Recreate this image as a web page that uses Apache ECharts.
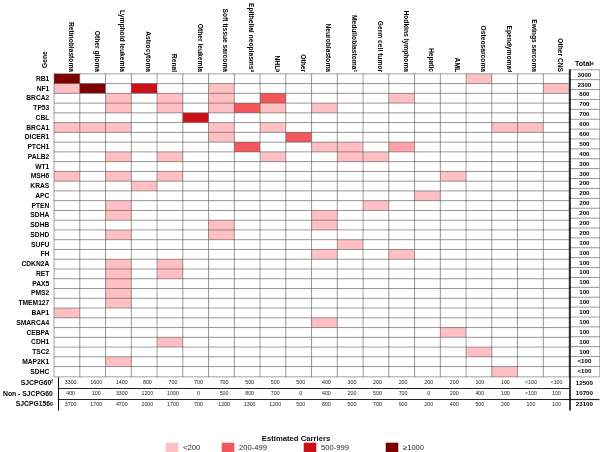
<!DOCTYPE html>
<html><head><meta charset="utf-8">
<script src="https://cdn.jsdelivr.net/npm/echarts@6/dist/echarts.min.js"></script>
<style>html,body{margin:0;padding:0;background:#fff}#c{width:600px;height:452px}</style>
</head><body><div id="c"></div>
<script>
// ---------- data ----------
const cancers = ['Retinoblastoma','Other glioma','Lymphoid leukemia','Astrocytoma','Renal','Other leukemia','Soft tissue sarcoma','Epithelial neoplasms','NHL','Other','Neuroblastoma','Medulloblastoma','Germ cell tumor','Hodkins lymphoma','Hepatic','AML','Osteosarcoma','Ependymoma','Ewings sarcoma','Other CNS'];
const cancerNotes = {'Epithelial neoplasms':'a','NHL':'b','Medulloblastoma':'c','Ependymoma':'d'};
const genes = ['RB1','NF1','BRCA2','TP53','CBL','BRCA1','DICER1','PTCH1','PALB2','WT1','MSH6','KRAS','APC','PTEN','SDHA','SDHB','SDHD','SUFU','FH','CDKN2A','RET','PAX5','PMS2','TMEM127','BAP1','SMARCA4','CEBPA','CDH1','TSC2','MAP2K1','SDHC'];
// carrier level per gene (one digit per cancer column): 0 none, 1 <200, 2 200-499, 3 500-999, 4 >=1000, 5 intermediate pink
const carrierLevels = [
 '40000000000000001000',
 '14030010000000000001',
 '00101010200001000000',
 '00101012101000000000',
 '00000300000000000000',
 '11100010100000000110',
 '00000010020000000000',
 '00000002001105000000',
 '00101000100110000000',
 '00000000000000000000',
 '10101000000000010000',
 '00010000000000000000',
 '00000000000000100000',
 '00100000000010000000',
 '00100000001000000000',
 '00000010001000000000',
 '00100010000000000000',
 '00000000000100000000',
 '00000000001001000000',
 '00101000000000000000',
 '00101000000000000000',
 '00100000000000000000',
 '00100000000000000000',
 '00100000000000000000',
 '10000000000000000000',
 '00000000001000000000',
 '00000000000000010000',
 '00001000000000000000',
 '00000000000000001000',
 '00100000000000000000',
 '00000000000000000100'
];
const geneTotals = ['3000','2300','800','700','700','600','600','500','400','300','300','200','200','200','200','200','200','100','100','100','100','100','100','100','100','100','100','100','100','<100','<100'];
const summaryRows = ['SJCPG60','Non - SJCPG60','SJCPG156'];
const summaryNotes = ['f','','g'];
const sjcpg60    = ['3300','1600','1400','800','700','700','700','500','500','500','400','300','200','200','200','200','100','100','<100','<100'];
const nonSjcpg60 = ['400','100','3300','1200','1000','0','500','800','700','0','400','200','500','700','0','200','400','100','<100','100'];
const sjcpg156   = ['3700','1700','4700','2000','1700','700','1200','1300','1200','500','800','500','700','900','200','400','500','200','100','100'];
const summaryTotals = ['12500','10700','23100'];
const levelNames = ['<200','200-499','500-999','\u22651000'];
const levelColors = ['#ffffff','#ffbfc3','#f2575b','#cc1017','#7f0000','#ffa3a8'];

// ---------- chart ----------
const FF = '"Liberation Sans", Arial, sans-serif';
const summaryValues = [sjcpg60, nonSjcpg60, sjcpg156];
const heatData = [];
carrierLevels.forEach((row, i) => { for (let j = 0; j < cancers.length; j++) heatData.push([j, i, +row[j]]); });
const totalData = genes.map((g, i) => [0, i, 1]);
const sumData = [];
summaryRows.forEach((r, i) => cancers.forEach((c, j) => sumData.push([j, i, 1])));
const sumTotData = summaryRows.map((r, i) => [0, i, 1]);

const supRich = {
  n: {fontSize: 6.7, fontWeight: 'bold', fontFamily: FF, color: '#000'},
  s: {fontSize: 4.6, fontWeight: 'bold', fontFamily: FF, color: '#000', verticalAlign: 'top'}
};
const gridL = 54.3, colW = 25.75, topA = 70, rowH = 9.89;
const mainW = colW * cancers.length, mainH = rowH * genes.length;
const totL = gridL + mainW, totW = 30.2;
const sumTop = topA + mainH + 0.9, sumH = 32.5;
const noEmph = {disabled: true};

const chart = echarts.init(document.getElementById('c'), null, {renderer: 'canvas'});
chart.setOption({
  animation: false,
  backgroundColor: '#fff',
  grid: [
    {left: gridL, top: topA, width: mainW, height: mainH},
    {left: totL, top: topA, width: totW, height: mainH},
    {left: gridL, top: sumTop, width: mainW, height: sumH},
    {left: totL, top: sumTop, width: totW, height: sumH}
  ],
  xAxis: [
    {gridIndex: 0, type: 'category', data: cancers, position: 'top',
     axisLine: {show: false}, axisTick: {show: false}, splitLine: {show: false},
     axisLabel: {interval: 0, rotate: 90, margin: 2, verticalAlign: 'bottom',
       formatter: v => cancerNotes[v] ? '{n|' + v + '}{s|' + cancerNotes[v] + '}' : '{n|' + v + '}', rich: supRich}},
    {gridIndex: 1, type: 'category', data: ['Total'], position: 'top',
     axisLine: {show: false}, axisTick: {show: false},
     axisLabel: {margin: 2, formatter: v => '{n|' + v + '}{s|e}',
       rich: {n: Object.assign({}, supRich.n, {fontSize: 7}), s: supRich.s}}},
    {gridIndex: 2, type: 'category', data: cancers, show: false},
    {gridIndex: 3, type: 'category', data: ['Total'], show: false}
  ],
  yAxis: [
    {gridIndex: 0, type: 'category', data: genes, inverse: true,
     axisLine: {show: false}, axisTick: {show: false}, splitLine: {show: false},
     axisLabel: {interval: 0, margin: 5, fontSize: 6.7, fontWeight: 'bold', fontFamily: FF, color: '#000'}},
    {gridIndex: 1, type: 'category', data: genes, inverse: true, z: 10,
     axisLine: {show: true, lineStyle: {color: '#000', width: 1.5}}, axisTick: {show: false}, axisLabel: {show: false}},
    {gridIndex: 2, type: 'category', data: summaryRows, inverse: true, z: 10,
     axisLine: {show: true, lineStyle: {color: '#000', width: 1}}, axisTick: {show: false},
     splitLine: {show: true, showMinLine: false, showMaxLine: false, lineStyle: {color: '#222', width: 1.2}},
     axisLabel: {interval: 0, margin: 5,
       formatter: (v, i) => summaryNotes[i] ? '{n|' + v + '}{s|' + summaryNotes[i] + '}' : '{n|' + v + '}',
       rich: {n: Object.assign({}, supRich.n, {fontSize: 6.8}), s: supRich.s}}},
    {gridIndex: 3, type: 'category', data: summaryRows, inverse: true, z: 10,
     axisLine: {show: true, lineStyle: {color: '#000', width: 1.5}}, axisTick: {show: false}, axisLabel: {show: false},
     splitLine: {show: true, showMinLine: false, showMaxLine: false, lineStyle: {color: '#222', width: 1.2}}}
  ],
  visualMap: {type: 'piecewise', show: false, seriesIndex: 0, dimension: 2,
    pieces: levelColors.map((c, k) => ({value: k, color: c}))},
  series: [
    {type: 'heatmap', xAxisIndex: 0, yAxisIndex: 0, data: heatData, emphasis: noEmph,
     itemStyle: {borderColor: '#555', borderWidth: 0.55}},
    {type: 'heatmap', xAxisIndex: 1, yAxisIndex: 1, data: totalData, emphasis: noEmph,
     itemStyle: {color: '#fff', borderColor: '#555', borderWidth: 0.55},
     label: {show: true, formatter: p => geneTotals[p.data[1]], fontSize: 6.2, fontWeight: 'bold', fontFamily: FF, color: '#000'}},
    {type: 'heatmap', xAxisIndex: 2, yAxisIndex: 2, data: sumData, emphasis: noEmph,
     itemStyle: {color: 'rgba(0,0,0,0)', borderWidth: 0},
     label: {show: true, formatter: p => summaryValues[p.data[1]][p.data[0]], fontSize: 5.3, fontFamily: FF, color: '#222'}},
    {type: 'heatmap', xAxisIndex: 3, yAxisIndex: 3, data: sumTotData, emphasis: noEmph,
     itemStyle: {color: 'rgba(0,0,0,0)', borderWidth: 0},
     label: {show: true, formatter: p => summaryTotals[p.data[1]], fontSize: 6.2, fontWeight: 'bold', fontFamily: FF, color: '#000'}}
  ],
  graphic: [
    {type: 'text', x: 45.5, y: 68, rotation: Math.PI / 2,
     style: {text: 'Gene', fontSize: 6.7, fontWeight: 'bold', fontFamily: FF, fill: '#000', align: 'left', verticalAlign: 'middle'}},
    {type: 'text', x: 296, y: 438.5,
     style: {text: 'Estimated Carriers', fontSize: 7.7, fontWeight: 'bold', fontFamily: FF, fill: '#111', align: 'center', verticalAlign: 'middle'}}
  ].concat(...levelNames.map((name, k) => {
    const xs = [166, 222, 304, 386];
    return [
      {type: 'rect', shape: {x: xs[k], y: 443, width: 12, height: 9},
       style: {fill: levelColors[k + 1], stroke: k === 3 ? '#5a0000' : levelColors[k + 1], lineWidth: 0.6}},
      {type: 'text', x: xs[k] + 17, y: 447.5,
       style: {text: name, fontSize: 7.6, fontFamily: FF, fill: '#222', align: 'left', verticalAlign: 'middle'}}
    ];
  }))
});
</script></body></html>
